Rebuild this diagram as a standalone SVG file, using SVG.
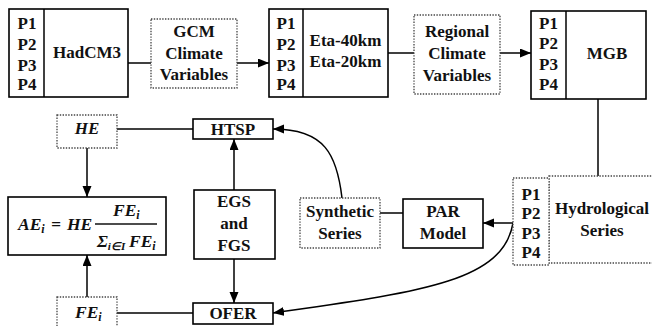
<svg xmlns="http://www.w3.org/2000/svg" width="652" height="326" viewBox="0 0 652 326">
<style>
.s{fill:#fff;stroke:#000;stroke-width:1.6}
.d{fill:#fff;stroke:#444;stroke-width:1.3;stroke-dasharray:1.4 1.4}
text{font-family:'Liberation Serif','Times New Roman',Times,serif;font-weight:700;fill:#111}
.t{font-size:17px;text-anchor:middle}
.m{font-size:17.5px;font-style:italic}
.c{fill:none;stroke:#000;stroke-width:1.5}
</style>
<defs>
<marker id="ah" markerUnits="userSpaceOnUse" markerWidth="12" markerHeight="10" refX="11" refY="4.5" orient="auto">
<path d="M0,0 L11,4.5 L0,9 z" fill="#000"/>
</marker>
</defs>
<rect width="652" height="326" fill="#fff"/>

<g id="connectors">
<line class="c" x1="128" y1="63" x2="151" y2="63"/>
<line class="c" x1="237" y1="63" x2="269" y2="63" marker-end="url(#ah)"/>
<line class="c" x1="388" y1="53" x2="414" y2="53"/>
<line class="c" x1="500" y1="53" x2="531" y2="53" marker-end="url(#ah)"/>
<line class="c" x1="598" y1="99" x2="598" y2="176"/>
<line class="c" x1="513" y1="223" x2="483" y2="223" marker-end="url(#ah)"/>
<line class="c" x1="403" y1="213" x2="380" y2="213"/>
<path class="c" d="M342,198 C337,155 325,129 273,129" marker-end="url(#ah)"/>
<path class="c" d="M513,223 C503,282 420,292 273,313" marker-end="url(#ah)"/>
<line class="c" x1="193" y1="129" x2="117" y2="129"/>
<line class="c" x1="87" y1="148" x2="87" y2="197" marker-end="url(#ah)"/>
<line class="c" x1="234" y1="190" x2="234" y2="139" marker-end="url(#ah)"/>
<line class="c" x1="234" y1="259" x2="234" y2="303" marker-end="url(#ah)"/>
<line class="c" x1="193" y1="313" x2="117" y2="313"/>
<line class="c" x1="87" y1="297" x2="87" y2="255" marker-end="url(#ah)"/>
</g>

<g id="hadcm3">
<rect class="s" x="9" y="9" width="119" height="88"/>
<line class="c" x1="44" y1="9" x2="44" y2="97"/>
<text class="t" x="27" y="29">P1</text>
<text class="t" x="27" y="50">P2</text>
<text class="t" x="27" y="71">P3</text>
<text class="t" x="27" y="90">P4</text>
<text class="t" x="87" y="58">HadCM3</text>
</g>

<g id="gcm">
<rect class="d" x="151" y="19" width="86" height="69"/>
<text class="t" x="194" y="37">GCM</text>
<text class="t" x="194" y="58.5">Climate</text>
<text class="t" x="194" y="80">Variables</text>
</g>

<g id="eta">
<rect class="s" x="269" y="9" width="119" height="88"/>
<line class="c" x1="303" y1="9" x2="303" y2="97"/>
<text class="t" x="286" y="29">P1</text>
<text class="t" x="286" y="50">P2</text>
<text class="t" x="286" y="71">P3</text>
<text class="t" x="286" y="90">P4</text>
<text class="t" x="345.5" y="46">Eta-40km</text>
<text class="t" x="345.5" y="67">Eta-20km</text>
</g>

<g id="regional">
<rect class="d" x="414" y="15" width="86" height="79"/>
<text class="t" x="457" y="37">Regional</text>
<text class="t" x="457" y="59">Climate</text>
<text class="t" x="457" y="81">Variables</text>
</g>

<g id="mgb">
<rect class="s" x="531" y="11" width="115" height="88"/>
<line class="c" x1="566" y1="11" x2="566" y2="99"/>
<text class="t" x="548.5" y="29">P1</text>
<text class="t" x="548.5" y="49">P2</text>
<text class="t" x="548.5" y="70">P3</text>
<text class="t" x="548.5" y="90">P4</text>
<text class="t" x="607" y="59">MGB</text>
</g>

<g id="hydro">
<rect class="d" x="549" y="176" width="115" height="87"/>
<rect class="d" x="513" y="178" width="36" height="87"/>
<text class="t" x="531" y="200">P1</text>
<text class="t" x="531" y="219">P2</text>
<text class="t" x="531" y="239">P3</text>
<text class="t" x="531" y="258">P4</text>
<text class="t" x="602" y="214">Hydrological</text>
<text class="t" x="602" y="236">Series</text>
</g>

<g id="par">
<rect class="s" x="403" y="199" width="80" height="49"/>
<text class="t" x="443" y="217">PAR</text>
<text class="t" x="443" y="239">Model</text>
</g>

<g id="synthetic">
<rect class="d" x="300" y="198" width="80" height="50"/>
<text class="t" x="340" y="217">Synthetic</text>
<text class="t" x="340" y="239">Series</text>
</g>

<g id="htsp">
<rect class="s" x="193" y="119" width="80" height="20"/>
<text class="t" x="233" y="135">HTSP</text>
</g>

<g id="he">
<rect class="d" x="57" y="115" width="60" height="33"/>
<text class="t" x="87" y="134" font-style="italic">HE</text>
</g>

<g id="egs">
<rect class="s" x="194" y="190" width="81" height="69"/>
<text class="t" x="234" y="207">EGS</text>
<text class="t" x="234" y="229">and</text>
<text class="t" x="234" y="251">FGS</text>
</g>

<g id="ofer">
<rect class="s" x="193" y="303" width="80" height="21"/>
<text class="t" x="233" y="319">OFER</text>
</g>

<g id="fe">
<rect class="d" x="57" y="297" width="60" height="40"/>
<text class="m" x="75" y="318">FE<tspan font-size="12" dy="3">i</tspan></text>
</g>

<g id="ae">
<rect class="s" x="8" y="197" width="158" height="58"/>
<text class="m" x="18" y="230">AE<tspan font-size="12" dy="3">i</tspan></text>
<text class="m" x="56" y="230" font-style="normal" text-anchor="middle">=</text>
<text class="m" x="67" y="230">HE</text>
<line x1="95" y1="224" x2="157" y2="224" stroke="#111" stroke-width="1.3"/>
<text class="m" x="113" y="216">FE<tspan font-size="12" dy="3">i</tspan></text>
<text class="m" x="97" y="247" font-style="normal">Σ<tspan font-size="11" font-style="italic" dy="3">i∈I</tspan></text>
<text class="m" x="129" y="247">FE<tspan font-size="12" dy="3">i</tspan></text>
</g>
</svg>
